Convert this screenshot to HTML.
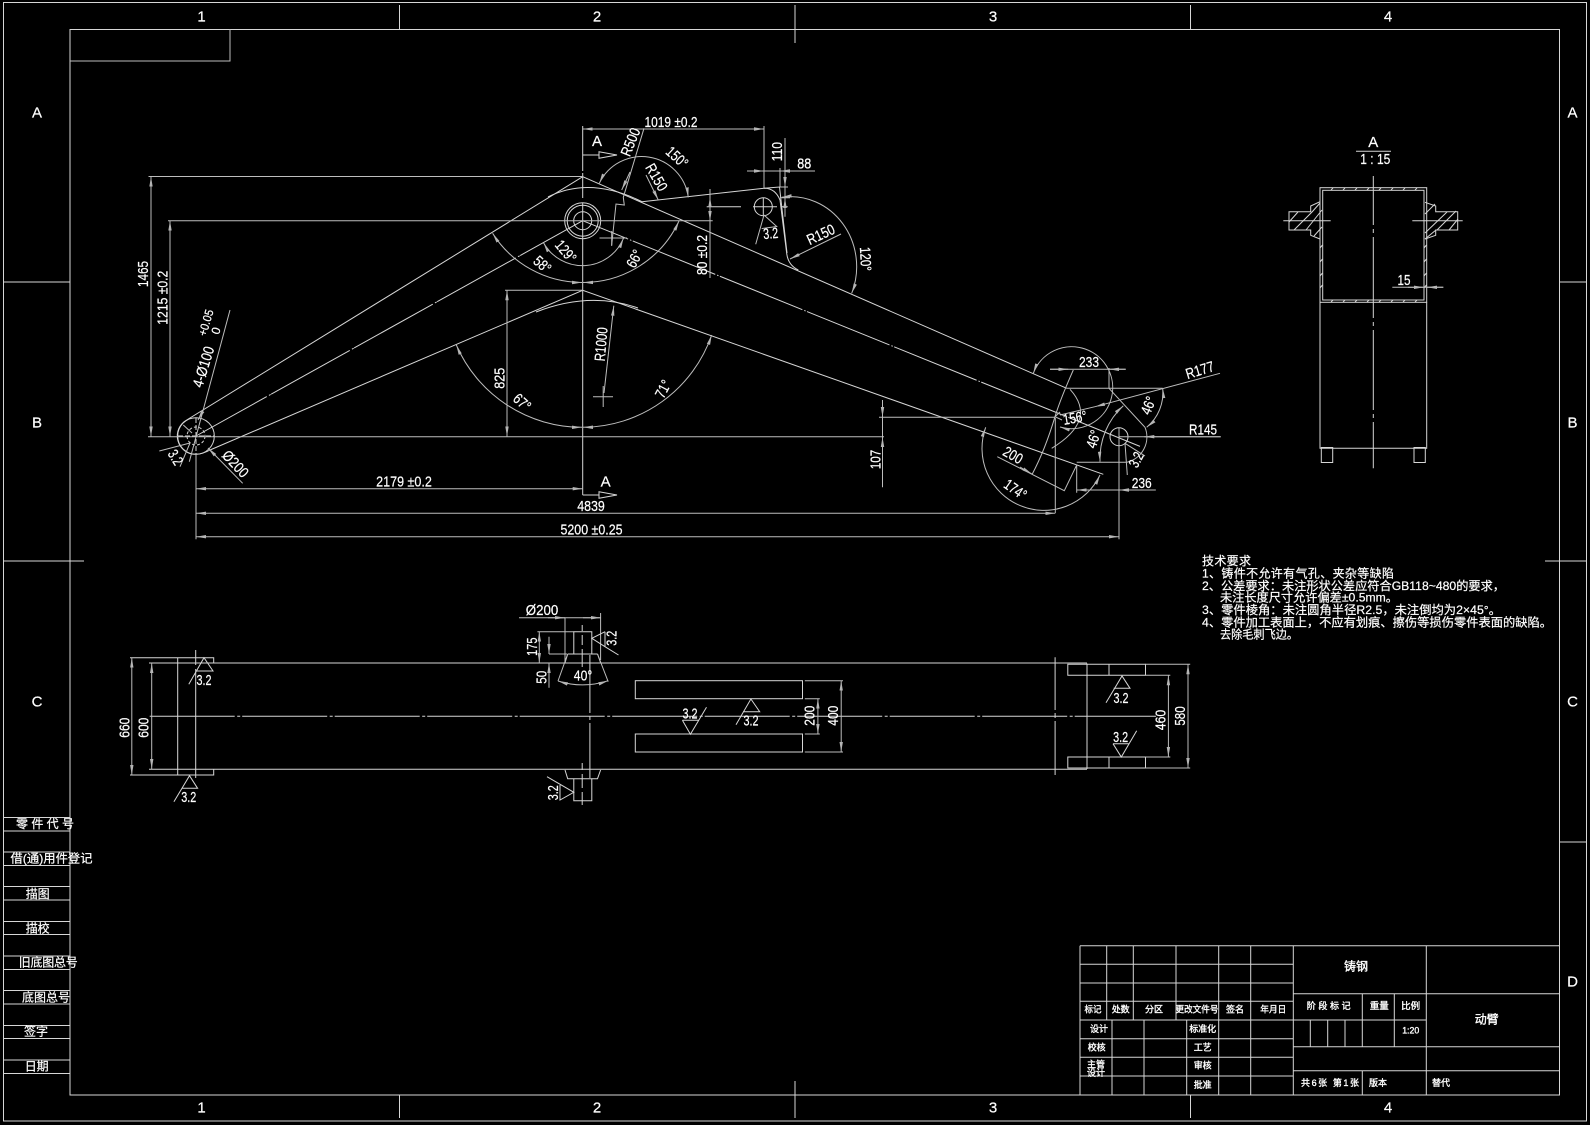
<!DOCTYPE html>
<html><head><meta charset="utf-8"><style>
html,body{margin:0;padding:0;background:#000;width:1590px;height:1125px;overflow:hidden}
svg{display:block}
.l{stroke:#d6d6d6;stroke-width:1;fill:none}
.g{stroke:#bdbdbd;stroke-width:1;fill:none}
text{fill:#fff;stroke:#fff;stroke-width:.2;font-family:"Liberation Sans","Noto Sans CJK SC",sans-serif;text-anchor:middle;dominant-baseline:central;font-size:15px}
.z text,text.z{font-size:12px}
.s text{font-size:9px;stroke-width:.35}
.s text.z{font-size:12px}
.n{text-anchor:start;font-size:12px;dominant-baseline:central}
</style></head><body>
<svg width="1590" height="1125" viewBox="0 0 1590 1125" xmlns="http://www.w3.org/2000/svg">
<defs>
<marker id="a" markerUnits="userSpaceOnUse" markerWidth="12" markerHeight="6" refX="10" refY="3" orient="auto-start-reverse"><path d="M10,3 L0,1.3 L0,4.7 Z" fill="#b5b5b5"/></marker>
</defs>
<rect width="1590" height="1125" fill="#000"/>

<!-- frame -->
<g class="l">
<rect x="3.5" y="2.5" width="1583" height="1118.5"/>
<rect x="70" y="29.5" width="1489.5" height="1065.5"/>
<path class="g" d="M70,61H230V29.5"/>
<path d="M399.5,5V29.5M795,5V43M1190.5,5V29.5M399.5,1095V1118M795,1081V1118M1190.5,1095V1118"/>
<path d="M3.5,282H70M3.5,561H84M1545,561H1586.5M1559.5,282H1586.5M1559.5,842H1586.5"/>
<path d="M3.5,817.5H70M3.5,831H70M3.5,852H70M3.5,865.5H70M3.5,886.5H70M3.5,900H70M3.5,921.5H70M3.5,934.5H70M3.5,956H70M3.5,969.5H70M3.5,990.5H70M3.5,1004H70M3.5,1025.5H70M3.5,1038.5H70M3.5,1060H70M3.5,1073.5H70"/>
</g>
<g>
<text x="201.5" y="17">1</text><text x="597" y="17">2</text><text x="993" y="17">3</text><text x="1388" y="17">4</text>
<text x="201.5" y="1108">1</text><text x="597" y="1108">2</text><text x="993" y="1108">3</text><text x="1388" y="1108">4</text>
<text x="37" y="113">A</text><text x="37" y="423">B</text><text x="37" y="702">C</text>
<text x="1572.5" y="113">A</text><text x="1572.5" y="423">B</text><text x="1572.5" y="702">C</text><text x="1572.5" y="982">D</text>
</g>
<g class="z">
<text x="45" y="824" textLength="58">零 件 代 号</text>
<text x="51.5" y="858.7" textLength="82" lengthAdjust="spacingAndGlyphs">借(通)用件登记</text>
<text x="37.7" y="894" textLength="24">描图</text>
<text x="37.7" y="928.3" textLength="24">描校</text>
<text x="48.3" y="962.7" textLength="59">旧底图总号</text>
<text x="46" y="997.3" textLength="48">底图总号</text>
<text x="36" y="1031.7" textLength="24">签字</text>
<text x="36.7" y="1066.7" textLength="24">日期</text>
</g>

<!-- title block -->
<g class="l">
<path d="M1080,945.7H1559.5M1080,964.3H1293.3M1080,983H1293.3M1080,1001.3H1293.3M1080,1020H1426.3M1080,1038.7H1293.3M1080,1057.3H1293.3M1080,1076H1293.3"/>
<path d="M1293.3,993.7H1559.5M1293.3,1046.7H1559.5M1293.3,1070.7H1559.5"/>
<path d="M1080,945.7V1095M1106.7,945.7V1020M1133.3,945.7V1020M1176,945.7V1020M1218.7,945.7V1095M1250.7,945.7V1095M1293.3,945.7V1095"/>
<path d="M1112,1020V1095M1144,1020V1095M1186.7,1020V1095"/>
<path d="M1426.3,945.7V1095M1362.3,993.7V1046.7M1394.3,993.7V1046.7M1310.3,1020V1046.7M1327.7,1020V1046.7M1345,1020V1046.7M1362.3,1070.7V1095"/>
</g>
<g class="s">
<text class="z" x="1356" y="966.7" textLength="24">铸钢</text>
<text class="z" x="1486.7" y="1019.3" textLength="24">动臂</text>
<text x="1328.7" y="1006" textLength="44" lengthAdjust="spacing">阶段标记</text>
<text x="1379.3" y="1006" textLength="19" lengthAdjust="spacingAndGlyphs">重量</text>
<text x="1410.7" y="1006" textLength="19" lengthAdjust="spacingAndGlyphs">比例</text>
<text x="1410.7" y="1030.7" textLength="17" lengthAdjust="spacingAndGlyphs">1:20</text>
<text x="1330" y="1083" textLength="58" lengthAdjust="spacing">共6张 第1张</text>
<text x="1378" y="1083" textLength="18" lengthAdjust="spacingAndGlyphs">版本</text>
<text x="1441" y="1083" textLength="18" lengthAdjust="spacingAndGlyphs">替代</text>
<text x="1093" y="1009.7" textLength="17" lengthAdjust="spacingAndGlyphs">标记</text>
<text x="1120.7" y="1009.7" textLength="18" lengthAdjust="spacingAndGlyphs">处数</text>
<text x="1154" y="1009.7" textLength="18" lengthAdjust="spacingAndGlyphs">分区</text>
<text x="1197" y="1009.7" textLength="43" lengthAdjust="spacingAndGlyphs">更改文件号</text>
<text x="1235" y="1009.7" textLength="18" lengthAdjust="spacingAndGlyphs">签名</text>
<text x="1273.3" y="1009.7" textLength="26" lengthAdjust="spacingAndGlyphs">年月日</text>
<text x="1099" y="1029" textLength="18" lengthAdjust="spacingAndGlyphs">设计</text>
<text x="1202.7" y="1029" textLength="27" lengthAdjust="spacingAndGlyphs">标准化</text>
<text x="1096.7" y="1047.7" textLength="18" lengthAdjust="spacingAndGlyphs">校核</text>
<text x="1202.7" y="1047.7" textLength="18" lengthAdjust="spacingAndGlyphs">工艺</text>
<text x="1096" y="1064.3" textLength="18" lengthAdjust="spacingAndGlyphs">主管</text>
<text x="1096" y="1073" textLength="18" lengthAdjust="spacingAndGlyphs">设计</text>
<text x="1202.7" y="1065.7" textLength="18" lengthAdjust="spacingAndGlyphs">审核</text>
<text x="1202.7" y="1085" textLength="18" lengthAdjust="spacingAndGlyphs">批准</text>
</g>

<!-- main view outline -->
<g class="l">
<path d="M186.7,420L582.7,176.7L1066.7,388.3"/>
<path d="M196,436L582.7,220.7" stroke-dasharray="90 2.5 2 .5" stroke-dashoffset="9"/>
<path d="M582.7,220.7L1140,446.4" stroke-dasharray="89 2 1.5 1.5" stroke-dashoffset="40"/>
<path d="M210,450L582.7,290.3L1103.3,474.3"/>
<path d="M548,197Q590,176 642,201.7L764,188.3Q775,188 780,200L786.7,253.3Q788,265 798.3,270"/>
<path d="M536,312Q590,291 638,308"/>
<path d="M764,188.3L779.5,187L787,253"/>
<circle cx="196" cy="436" r="18.3"/><circle cx="196" cy="436" r="9" stroke-dasharray="3 2"/>
<path d="M186.7,420A18.3,18.3 0 0 0 196,454.3Q203,454 210,450"/>
<circle cx="582.7" cy="220.7" r="18"/><circle cx="582.7" cy="220.7" r="15.5"/><circle cx="582.7" cy="220.7" r="9"/>
<circle cx="763.3" cy="206.7" r="9"/>
<circle cx="1119" cy="436.7" r="9"/>
<path d="M706.7,206.7H741M753,206.7H777M781,206.7H787.7M763.3,198V216"/>
<path d="M178,436H214M196,418V454" stroke-dasharray="5 2"/>
<path d="M582.7,126V171M582.7,173V198M582.7,203V495"/>
<!-- datum -->
<path d="M582.7,155H599M582.7,495H599"/>
<path d="M599,151.7L617,155L599,158.3Z"/>
<path d="M599,491.7L617,495L599,498.3Z"/>
</g>
<text x="597" y="141.7">A</text>
<text x="605.6" y="482">A</text>

<!-- dims main -->
<g class="g">
<path d="M148.5,176.5H582.7M168,220.7H712.7M148,436.7H884M505,290.3H582.7M879,417.3H1055"/>
<path d="M196,455V539.3M1055.3,418V513M1119,428V539.3M764,126V188M710,189V278M882.5,400V487.3"/>
<path d="M151,176.7V436.5" marker-start="url(#a)" marker-end="url(#a)"/>
<path d="M170,220.7V436.5" marker-start="url(#a)" marker-end="url(#a)"/>
<path d="M507,290.3V436.5" marker-start="url(#a)" marker-end="url(#a)"/>
<path d="M582.7,129H764" marker-start="url(#a)" marker-end="url(#a)"/>
<path d="M196,488.7H582.7" marker-start="url(#a)" marker-end="url(#a)"/>
<path d="M196,513.3H1055.3" marker-start="url(#a)" marker-end="url(#a)"/>
<path d="M196,536.7H1119" marker-start="url(#a)" marker-end="url(#a)"/>
<path d="M710,197V221" marker-start="url(#a)" marker-end="url(#a)"/>
<path d="M882.5,400V417" marker-end="url(#a)"/><path d="M882.5,487V437" marker-end="url(#a)"/>
<!-- angle arcs -->
<path d="M492.6,233.3A106,106 0 0 0 582,282.5" marker-start="url(#a)" marker-end="url(#a)"/>
<path d="M583,282.5A106,106 0 0 0 679,221" marker-start="url(#a)" marker-end="url(#a)"/>
<path d="M543.5,242.7A44.5,44.5 0 0 0 623.5,238.3" marker-start="url(#a)" marker-end="url(#a)"/>
<path d="M456.3,345A137,137 0 0 0 582,427.3" marker-start="url(#a)" marker-end="url(#a)"/>
<path d="M583,427.3A137,137 0 0 0 711.7,335" marker-start="url(#a)" marker-end="url(#a)"/>
<path d="M599.3,183.3A47,47 0 0 1 688.3,197.3" marker-start="url(#a)" marker-end="url(#a)"/>
<path d="M781.7,197.3A66,70 0 0 1 851.7,293.3" marker-start="url(#a)" marker-end="url(#a)"/>
<!-- R leaders -->
<path d="M644,128.3L623.3,197.3L624.3,205L616,204L611.7,245" />
<path d="M599.5,238H627M611.7,231V246"/>
<path d="M630,172L621.7,190" marker-end="url(#a)"/>
<path d="M646,175L658.3,200" marker-end="url(#a)"/>
<path d="M841,234L790,259" marker-end="url(#a)"/>
<path d="M604,393L613.8,305.7" marker-end="url(#a)"/>
<path d="M593,396.7H613M603.2,386V407"/>
<!-- 88 / 110 -->
<path d="M747,171H815"/>
<path d="M747,171H764" marker-end="url(#a)"/><path d="M815,171H780" marker-end="url(#a)"/>
<path d="M780,168V187M785,138V216.7M780,187H788M780,197.7H790"/>
<path d="M785,170V187" marker-end="url(#a)"/><path d="M785,216V198" marker-end="url(#a)"/>
<!-- 3.2 at small pivot -->
<path d="M764,215L755.7,244.3M761.7,228.5L776.7,226.5L764,215"/>
<!-- left pivot leaders -->
<path d="M230,310L189.3,461.7"/>
<path d="M203,411L198,420" marker-end="url(#a)"/>
<path d="M242.7,483.3L208,448" marker-end="url(#a)"/>
<path d="M183.3,425L192,433"/>
<path d="M159.3,451L190,443L180,466.7"/>
<!-- right end -->
<path d="M1220,373.3L1095,406.7" marker-end="url(#a)"/><path d="M1095,406.7L1060,415"/>
<path d="M1066.7,388.3H1162.7M1076.7,462.3H1126.7M1119,436.7H1220.7"/>
<path d="M1220.7,436.7H1144.3" marker-end="url(#a)"/>
<path d="M1050,369.3H1125.7"/>
<path d="M1050,369.3H1068.3" marker-end="url(#a)"/><path d="M1125.7,369.3H1109" marker-end="url(#a)"/>
<path d="M1109,368V388.3M1109,388.3L1145,427.3M1145,427.3A26,26 0 0 1 1126.7,462.3"/>
<path d="M1073.3,370Q1060,400 1055,416.7Q1045,450 1032.3,474"/>
<path d="M1070,389.3Q1098,420 1051.7,448.3"/>
<path d="M997.3,456.7L1064.3,490.7L1076.7,465V492.7"/>
<path d="M1032,474L1020,467" marker-start="url(#a)"/>
<path d="M1076.7,490H1155.7"/>
<path d="M1076.7,490H1100" marker-start="url(#a)"/><path d="M1155.7,490H1119" marker-end="url(#a)"/>
<path d="M1033.3,373.3A41,41 0 1 1 1060,427" marker-start="url(#a)" marker-end="url(#a)"/>
<path d="M985.7,427.3A62,62 0 0 0 1100,475" marker-start="url(#a)" marker-end="url(#a)"/>
<path d="M1100,461.7A72,72 0 0 1 1123.3,405.7" marker-start="url(#a)" marker-end="url(#a)"/>
<path d="M1162.7,388.3A45,45 0 0 1 1146.7,427.3" marker-start="url(#a)" marker-end="url(#a)"/>
<path d="M1125,443.3L1127.3,475M1125,443.3L1145,456"/>
<path d="M1055,416.7L1060,412M1055,416.7L1062,420"/>
</g>
<g>
<text x="671" y="122.3" textLength="53" lengthAdjust="spacingAndGlyphs">1019 ±0.2</text>
<text transform="translate(143.6,274) rotate(-90)" textLength="26" lengthAdjust="spacingAndGlyphs">1465</text>
<text transform="translate(163,297.7) rotate(-90)" textLength="54" lengthAdjust="spacingAndGlyphs">1215 ±0.2</text>
<text transform="translate(500,378.3) rotate(-90)" textLength="21" lengthAdjust="spacingAndGlyphs">825</text>
<text x="404" y="482" textLength="55.7" lengthAdjust="spacingAndGlyphs">2179 ±0.2</text>
<text x="591" y="506.7" textLength="27.6" lengthAdjust="spacingAndGlyphs">4839</text>
<text x="591.5" y="530" textLength="62" lengthAdjust="spacingAndGlyphs">5200 ±0.25</text>
<text transform="translate(876,459.5) rotate(-90)" textLength="19.3" lengthAdjust="spacingAndGlyphs">107</text>
<text transform="translate(777.3,151.7) rotate(-90)" textLength="19.3" lengthAdjust="spacingAndGlyphs">110</text>
<text x="804.3" y="164" textLength="14" lengthAdjust="spacingAndGlyphs">88</text>
<text transform="translate(702.7,255) rotate(-90)" textLength="40" lengthAdjust="spacingAndGlyphs">80 ±0.2</text>
<text transform="translate(631,142.3) rotate(-68)" textLength="29" lengthAdjust="spacingAndGlyphs">R500</text>
<text transform="translate(656,177.5) rotate(60)" textLength="29" lengthAdjust="spacingAndGlyphs">R150</text>
<text transform="translate(676.7,157.7) rotate(42)" textLength="24" lengthAdjust="spacingAndGlyphs">150°</text>
<text transform="translate(821,235) rotate(-25)" textLength="29" lengthAdjust="spacingAndGlyphs">R150</text>
<text transform="translate(865,259) rotate(87)" textLength="24" lengthAdjust="spacingAndGlyphs">120°</text>
<text transform="translate(565.3,251.7) rotate(50)" textLength="24" lengthAdjust="spacingAndGlyphs">129°</text>
<text transform="translate(542,265) rotate(42)" textLength="18" lengthAdjust="spacingAndGlyphs">58°</text>
<text transform="translate(635,259) rotate(-62)" textLength="18" lengthAdjust="spacingAndGlyphs">66°</text>
<text transform="translate(521.7,402.7) rotate(42)" textLength="18" lengthAdjust="spacingAndGlyphs">67°</text>
<text transform="translate(663.7,389.3) rotate(-62)" textLength="18" lengthAdjust="spacingAndGlyphs">71°</text>
<text transform="translate(601.7,344.3) rotate(-85)" textLength="34" lengthAdjust="spacingAndGlyphs">R1000</text>
<text transform="translate(770.7,234) rotate(-5)" textLength="15" lengthAdjust="spacingAndGlyphs">3.2</text>
<text transform="translate(204,367) rotate(-73)" textLength="42" lengthAdjust="spacingAndGlyphs">4-Ø100</text>
<text font-size="11" style="font-size:12px" transform="translate(206,322.7) rotate(-73)" textLength="27" lengthAdjust="spacingAndGlyphs">+0.05</text>
<text style="font-size:12px" transform="translate(216,330.7) rotate(-73)">0</text>
<text transform="translate(235,464.3) rotate(47)" textLength="31" lengthAdjust="spacingAndGlyphs">Ø200</text>
<text transform="translate(175,457.7) rotate(58)" textLength="15" lengthAdjust="spacingAndGlyphs">3.2</text>
<text x="1089" y="362.7" textLength="20" lengthAdjust="spacingAndGlyphs">233</text>
<text transform="translate(1200,370.7) rotate(-17)" textLength="29" lengthAdjust="spacingAndGlyphs">R177</text>
<text x="1203" y="430" textLength="28" lengthAdjust="spacingAndGlyphs">R145</text>
<text x="1141.7" y="483.3" textLength="20" lengthAdjust="spacingAndGlyphs">236</text>
<text transform="translate(1075,418.3) rotate(-10)" textLength="24" lengthAdjust="spacingAndGlyphs">156°</text>
<text transform="translate(1149,405.7) rotate(-68)" textLength="18" lengthAdjust="spacingAndGlyphs">46°</text>
<text transform="translate(1094,439.3) rotate(-72)" textLength="18" lengthAdjust="spacingAndGlyphs">46°</text>
<text transform="translate(1012.7,455.7) rotate(30)" textLength="20" lengthAdjust="spacingAndGlyphs">200</text>
<text transform="translate(1015,490) rotate(35)" textLength="24" lengthAdjust="spacingAndGlyphs">174°</text>
<text transform="translate(1136.7,460) rotate(-62)" textLength="15" lengthAdjust="spacingAndGlyphs">3.2</text>
</g>

<!-- section view -->
<g class="l">
<rect x="1320" y="187.7" width="106.7" height="114.6"/>
<rect x="1322.7" y="190.3" width="101.3" height="109.7"/>
<path d="M1320,302.3V448.3H1426.7V302.3"/>
<rect x="1321.3" y="447.5" width="11.4" height="15"/>
<rect x="1414" y="447.5" width="11.3" height="15"/>
<path d="M1373.3,176V225M1373.3,229V233M1373.3,237V318M1373.3,322V326M1373.3,330V410M1373.3,414V418M1373.3,422V468.3"/>
<path d="M1320,201.7L1310.7,206V211.7H1289V230H1310.7V235.3L1320,239"/>
<path d="M1425,202.3L1435.7,206V211.7H1457.7V230H1435.7V235.3L1425,239"/>
<path d="M1283.3,220.7H1330.7M1412.3,220.7H1462.7"/>
<path d="M1289,222L1298,212M1294,230L1312,212M1306,230L1322,210M1312,212L1320,203M1314,236L1322,227"/>
<path d="M1425,214L1435,204M1425,233L1447,212M1437,230L1456,211M1449,230L1458,219M1425,239L1436,230"/>
<path d="M1331,190L1333,188M1343,190L1345,188M1355,190L1357,188M1367,190L1369,188M1379,190L1381,188M1391,190L1393,188M1403,190L1405,188M1415,190L1417,188"/>
<path d="M1331,302L1333,300M1343,302L1345,300M1355,302L1357,300M1367,302L1369,300M1379,302L1381,300M1391,302L1393,300M1403,302L1405,300M1415,302L1417,300"/>
<path d="M1320,248L1322.5,245M1320,262L1322.5,259M1320,276L1322.5,273M1320,288L1322.5,285M1424,248L1426.5,245M1424,262L1426.5,259M1424,276L1426.5,273M1424,288L1426.5,285"/>
<path d="M1356,151.3H1391"/>
<path class="g" d="M1392.3,287.3H1443.3"/>
<path class="g" d="M1408,287.3H1424" marker-end="url(#a)"/><path class="g" d="M1443.3,287.3H1427" marker-end="url(#a)"/>
</g>
<text x="1373.3" y="142.7">A</text>
<text x="1375.3" y="159.3" textLength="30" lengthAdjust="spacingAndGlyphs">1 : 15</text>
<text x="1404" y="280.7" textLength="13" lengthAdjust="spacingAndGlyphs">15</text>

<!-- notes -->
<g>
<text class="n" x="1202" y="561" textLength="49">技术要求</text>
<text class="n" x="1202" y="573.3" textLength="192">1、铸件不允许有气孔、夹杂等缺陷</text>
<text class="n" x="1202" y="586" textLength="303" lengthAdjust="spacingAndGlyphs">2、公差要求：未注形状公差应符合GB118~480的要求，</text>
<text class="n" x="1220" y="597.7" textLength="178" lengthAdjust="spacingAndGlyphs">未注长度尺寸允许偏差±0.5mm。</text>
<text class="n" x="1202" y="610" textLength="299" lengthAdjust="spacingAndGlyphs">3、零件棱角：未注圆角半径R2.5，未注倒均为2×45°。</text>
<text class="n" x="1202" y="622.3" textLength="350" lengthAdjust="spacingAndGlyphs">4、零件加工表面上，不应有划痕、擦伤等损伤零件表面的缺陷。</text>
<text class="n" x="1220" y="634.3" textLength="78" lengthAdjust="spacingAndGlyphs">去除毛刺飞边。</text>
</g>

<!-- front view -->
<g class="l">
<path d="M149,663H1087M149,769.3H1087"/>
<path d="M148,716.3H1156" stroke-dasharray="85 2.5 3 2" stroke-dashoffset="90.8"/>
<path d="M130,657.7H213.7V663M130,775H213.7V769.3M177.7,657.7V775"/>
<path d="M195.7,650V665M195.7,669V778"/>
<path d="M573.8,654V631.7H591.8V654M567.7,654H597.5M565,662.7L567.7,654M600.6,662.7L597.5,654"/>
<path d="M565,770L567.7,778.7H597.5L600.6,770M573.8,778.7V800.7H591.8V778.7"/>
<path d="M582.2,625V631M582.2,635V645M582.2,649V667M582.2,763V770M582.2,774V788M582.2,792V805"/>
<path d="M589.9,655V778" stroke-dasharray="58 3 4 3"/>
<rect x="635.3" y="680.7" width="167.2" height="18"/>
<rect x="635.3" y="734" width="167.2" height="18"/>
<path d="M1055.1,657.3V710M1055.1,713V718M1055.1,721V775"/>
<path d="M1067.8,664.3H1145.5V675.3H1067.8ZM1109,664.3V675.3M1067.8,757H1145.5V768H1067.8ZM1109,757V768M1087,663.5V769"/>
</g>
<g class="g">
<path d="M131.8,657.7V775" marker-start="url(#a)" marker-end="url(#a)"/>
<path d="M151.7,663V769" marker-start="url(#a)" marker-end="url(#a)"/>
<path d="M519,617.7H601"/><path d="M548,617.7H565" marker-end="url(#a)"/><path d="M601,617.7H583" marker-start="url(#a)"/>
<path d="M565,617.7V662M600.6,613V660M537.4,631.7H573.8M567,654H549"/>
<path d="M539.3,631.7V663" marker-start="url(#a)" marker-end="url(#a)"/>
<path d="M549,636.7V654" marker-end="url(#a)"/><path d="M549,687.7V663" marker-end="url(#a)"/>
<path d="M567.7,654L558,681M597.5,654L608.2,681.7"/>
<path d="M558,681Q583,689 608.2,680.7" marker-start="url(#a)" marker-end="url(#a)"/>
<path d="M804.8,680.7H843M804.8,752H843M804.8,698.7H819.8M804.8,734H819.8"/>
<path d="M841.2,680.7V752" marker-start="url(#a)" marker-end="url(#a)"/>
<path d="M817.9,698.7V734" marker-start="url(#a)" marker-end="url(#a)"/>
<path d="M1145.5,675.3H1170.3M1145.5,757H1170.3M1145.5,664.3H1190.2M1145.5,768H1190.2"/>
<path d="M1168.4,675.3V757" marker-start="url(#a)" marker-end="url(#a)"/>
<path d="M1188,664.3V768" marker-start="url(#a)" marker-end="url(#a)"/>
</g>
<g class="l">
<!-- roughness symbols -->
<path d="M188.8,684.3L204,657.7L213,671H195.7"/>
<path d="M173.9,801.7L189.5,775.7L197.6,788.3H182.3"/>
<path d="M605,631.7L591.8,638.3L605,646.7L618.5,655M605,631.7V646.7"/>
<path d="M547,776.7L573.8,792.3L560,800V785"/>
<path d="M682.4,720.3H698.5M682.4,720.3L690.4,734.3L706.5,707.3"/>
<path d="M736,724.7L750.9,699L759.7,711.7H743"/>
<path d="M1106,702.7L1122,676L1130,688.3H1113.7"/>
<path d="M1113,743.7H1129M1113,743.7L1121.3,757L1136.7,730.7"/>
</g>
<g>
<text transform="translate(125,727.7) rotate(-90)" textLength="20" lengthAdjust="spacingAndGlyphs">660</text>
<text transform="translate(144,727.7) rotate(-90)" textLength="20" lengthAdjust="spacingAndGlyphs">600</text>
<text x="204" y="680.7" textLength="15" lengthAdjust="spacingAndGlyphs">3.2</text>
<text x="188.8" y="797.7" textLength="15" lengthAdjust="spacingAndGlyphs">3.2</text>
<text x="542" y="610.7" textLength="32.5" lengthAdjust="spacingAndGlyphs">Ø200</text>
<text transform="translate(532.5,646.7) rotate(-90)" textLength="18.3" lengthAdjust="spacingAndGlyphs">175</text>
<text transform="translate(542,677.3) rotate(-90)" textLength="13" lengthAdjust="spacingAndGlyphs">50</text>
<text x="583" y="676" textLength="18.4" lengthAdjust="spacingAndGlyphs">40°</text>
<text transform="translate(612,638.3) rotate(-90)" textLength="15" lengthAdjust="spacingAndGlyphs">3.2</text>
<text transform="translate(553.5,792.7) rotate(-90)" textLength="15" lengthAdjust="spacingAndGlyphs">3.2</text>
<text x="690" y="714" textLength="15" lengthAdjust="spacingAndGlyphs">3.2</text>
<text x="751" y="721" textLength="15" lengthAdjust="spacingAndGlyphs">3.2</text>
<text transform="translate(810,715.7) rotate(-90)" textLength="20" lengthAdjust="spacingAndGlyphs">200</text>
<text transform="translate(833.5,715.7) rotate(-90)" textLength="20" lengthAdjust="spacingAndGlyphs">400</text>
<text x="1121" y="698.3" textLength="15" lengthAdjust="spacingAndGlyphs">3.2</text>
<text x="1120.6" y="737.3" textLength="15" lengthAdjust="spacingAndGlyphs">3.2</text>
<text transform="translate(1160.8,720) rotate(-90)" textLength="20.5" lengthAdjust="spacingAndGlyphs">460</text>
<text transform="translate(1180.6,716) rotate(-90)" textLength="19.3" lengthAdjust="spacingAndGlyphs">580</text>
</g>
</svg>
</body></html>
